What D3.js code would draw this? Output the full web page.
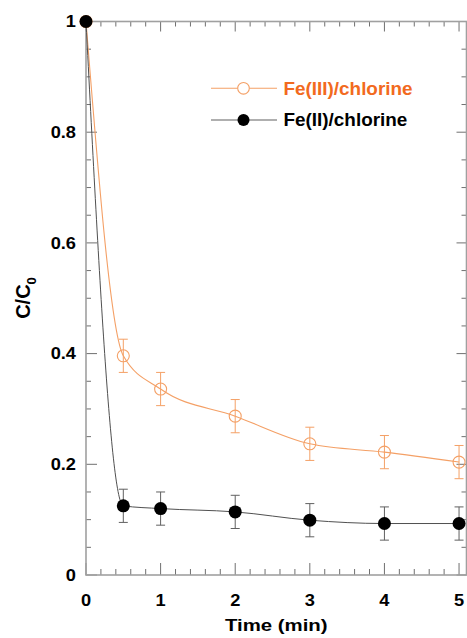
<!DOCTYPE html>
<html>
<head>
<meta charset="utf-8">
<script src="https://cdn.jsdelivr.net/npm/d3@7"></script>
<style>
  html, body { margin: 0; padding: 0; background: #fff; }
  svg { display: block; font-family: "Liberation Sans", Arial, sans-serif; font-weight: bold; }
</style>
</head>
<body>
<svg id="chart" width="467" height="638"></svg>
<script>
// Sampling times (min)
const times = [0, 0.5, 1, 2, 3, 4, 5];
// Normalised concentration C/C0 for each oxidant system
const fe3Values = [1.0, 0.396, 0.336, 0.287, 0.237, 0.222, 0.204];
const fe2Values = [1.0, 0.125, 0.120, 0.114, 0.099, 0.093, 0.093];
// Standard deviations shown as error bars
const fe3Errors = [0, 0.030, 0.030, 0.030, 0.030, 0.030, 0.030];
const fe2Errors = [0, 0.030, 0.030, 0.030, 0.030, 0.030, 0.030];
// Axis tick labels
const xTickValues = [0, 1, 2, 3, 4, 5];
const yTickValues = [0, 0.2, 0.4, 0.6, 0.8, 1];
const seriesNames = ["Fe(III)/chlorine", "Fe(II)/chlorine"];

const svg = d3.select("#chart");
const x = d3.scaleLinear().domain([0, 5.1]).range([86, 466.5]);
const y = d3.scaleLinear().domain([0, 1]).range([575, 21.5]);

const ORANGE = "#f4a066";
const ORANGE_TEXT = "#f26a1e";
const AXIS = "#a0a0a0";
const TICK = "#707070";

// ---- frame and ticks ----
const g = svg.append("g");
const xMinor = d3.range(0, 5.01, 0.2).map(v => +v.toFixed(2));
const yMinor = d3.range(0, 1.001, 0.05).map(v => +v.toFixed(2));
const isMajorX = v => Math.abs(v - Math.round(v)) < 1e-6;
const isMajorY = v => Math.abs(v * 5 - Math.round(v * 5)) < 1e-6;

// bottom
g.selectAll(".tb").data(xMinor).join("line")
  .attr("x1", d => x(d)).attr("x2", d => x(d))
  .attr("y1", y(0)).attr("y2", d => y(0) - (isMajorX(d) ? 12 : 6))
  .attr("stroke", TICK).attr("stroke-width", 1);
// top
g.selectAll(".tt").data(xMinor).join("line")
  .attr("x1", d => x(d)).attr("x2", d => x(d))
  .attr("y1", y(1)).attr("y2", d => y(1) + (isMajorX(d) ? 10 : 5))
  .attr("stroke", TICK).attr("stroke-width", 1);
// left
g.selectAll(".tl").data(yMinor).join("line")
  .attr("y1", d => y(d)).attr("y2", d => y(d))
  .attr("x1", x(0)).attr("x2", d => x(0) + (isMajorY(d) ? 11 : 5))
  .attr("stroke", TICK).attr("stroke-width", 1);
// right
g.selectAll(".tr").data(yMinor).join("line")
  .attr("y1", d => y(d)).attr("y2", d => y(d))
  .attr("x1", x(5.1)).attr("x2", d => x(5.1) - (isMajorY(d) ? 10 : 5))
  .attr("stroke", TICK).attr("stroke-width", 1);

g.append("rect")
  .attr("x", x(0)).attr("y", y(1))
  .attr("width", x(5.1) - x(0)).attr("height", y(0) - y(1))
  .attr("fill", "none").attr("stroke", AXIS).attr("stroke-width", 1.6);

// ---- tick labels ----
svg.append("g").selectAll("text").data(xTickValues).join("text")
  .attr("transform", d => `translate(${x(d)},605.5) scale(1.14,1)`)
  .attr("text-anchor", "middle")
  .attr("font-size", 16)
  .attr("fill", "#000")
  .text(d => d3.format("")(d));

svg.append("g").selectAll("text").data(yTickValues).join("text")
  .attr("transform", d => `translate(76,${y(d) + 5.8}) scale(1.14,1)`)
  .attr("text-anchor", "end")
  .attr("font-size", 16)
  .attr("fill", "#000")
  .text(d => d === 0 || d === 1 ? String(d) : d.toFixed(1));

// ---- axis titles ----
svg.append("text")
  .attr("transform", `translate(${(x(0) + x(5.1)) / 2},630.5) scale(1.2,1)`)
  .attr("text-anchor", "middle")
  .attr("font-size", 17)
  .attr("fill", "#000")
  .text("Time (min)");

const yTitle = svg.append("text")
  .attr("transform", "translate(29.5,298) rotate(-90) scale(1,1.05)")
  .attr("text-anchor", "middle")
  .attr("font-size", 20)
  .attr("fill", "#000");
yTitle.append("tspan").text("C/C");
yTitle.append("tspan").attr("font-size", 13).attr("dy", 6).text("0");

// ---- series ----
const fe3 = times.map((t, i) => ({ t, v: fe3Values[i], e: fe3Errors[i] }));
const fe2 = times.map((t, i) => ({ t, v: fe2Values[i], e: fe2Errors[i] }));
const line = d3.line().x(d => x(d.t)).y(d => y(d.v)).curve(d3.curveMonotoneX);

function errorBars(data, color) {
  const eg = svg.append("g").attr("stroke", color).attr("stroke-width", 1);
  const withErr = data.filter(d => d.e > 0);
  eg.selectAll(".v").data(withErr).join("line")
    .attr("x1", d => x(d.t)).attr("x2", d => x(d.t))
    .attr("y1", d => y(d.v + d.e)).attr("y2", d => y(d.v - d.e));
  eg.selectAll(".c1").data(withErr).join("line")
    .attr("x1", d => x(d.t) - 4.5).attr("x2", d => x(d.t) + 4.5)
    .attr("y1", d => y(d.v + d.e)).attr("y2", d => y(d.v + d.e));
  eg.selectAll(".c2").data(withErr).join("line")
    .attr("x1", d => x(d.t) - 4.5).attr("x2", d => x(d.t) + 4.5)
    .attr("y1", d => y(d.v - d.e)).attr("y2", d => y(d.v - d.e));
}

// Fe(III)/chlorine: open orange circles
svg.append("path").datum(fe3).attr("d", line)
  .attr("fill", "none").attr("stroke", ORANGE).attr("stroke-width", 1.1);
errorBars(fe3, ORANGE);
svg.append("g").selectAll("circle").data(fe3).join("circle")
  .attr("cx", d => x(d.t)).attr("cy", d => y(d.v)).attr("r", 6)
  .attr("fill", "none").attr("stroke", ORANGE).attr("stroke-width", 1.1);

// Fe(II)/chlorine: filled black circles
svg.append("path").datum(fe2).attr("d", line)
  .attr("fill", "none").attr("stroke", "#505050").attr("stroke-width", 1);
errorBars(fe2, "#606060");
svg.append("g").selectAll("circle").data(fe2).join("circle")
  .attr("cx", d => x(d.t)).attr("cy", d => y(d.v)).attr("r", 6.5)
  .attr("fill", "#000");

// ---- legend ----
const legend = svg.append("g");
const legendRows = [
  { name: seriesNames[0], y: 88.3, stroke: ORANGE, text: ORANGE_TEXT, filled: false },
  { name: seriesNames[1], y: 120, stroke: "#606060", text: "#000", filled: true }
];
legendRows.forEach(r => {
  legend.append("line").attr("x1", 211).attr("x2", 277)
    .attr("y1", r.y).attr("y2", r.y)
    .attr("stroke", r.stroke).attr("stroke-width", 1.1);
  legend.append("circle").attr("cx", 243.5).attr("cy", r.y)
    .attr("r", r.filled ? 6 : 5.8)
    .attr("fill", r.filled ? "#000" : "#fff")
    .attr("stroke", r.filled ? "none" : ORANGE).attr("stroke-width", 1.1);
  legend.append("text")
    .attr("transform", `translate(283.5,${r.y + 6.3}) scale(1.05,1)`)
    .attr("font-size", 18)
    .attr("fill", r.text)
    .text(r.name);
});
</script>
</body>
</html>
